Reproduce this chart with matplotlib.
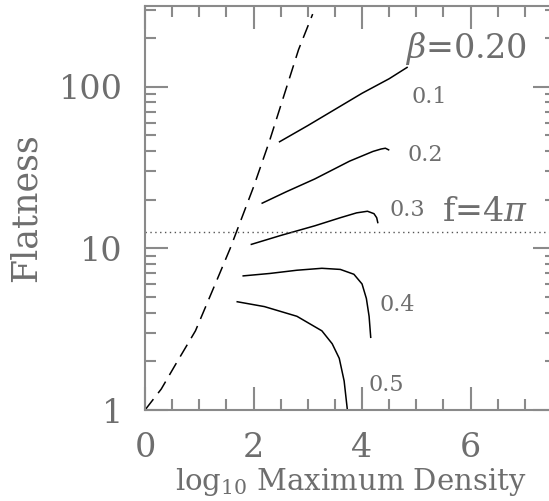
import numpy as np
import matplotlib
matplotlib.use("Agg")
import matplotlib.pyplot as plt
from matplotlib.ticker import FixedLocator, FixedFormatter, MultipleLocator, LogLocator, NullFormatter

# dashed boundary (x = log10 max density, y = log10 flatness)
dash_x = [0.0, 0.3, 0.56, 0.93, 1.32, 1.57, 2.0, 2.29, 2.83, 3.09]
dash_ly = [0.0, 0.13, 0.28, 0.49, 0.80, 1.0, 1.38, 1.66, 2.23, 2.45]

# beta = 0.1 .. 0.5 tracks
b01_x = [2.48, 3.0, 3.5, 4.0, 4.5, 4.83]
b01_ly = [1.66, 1.76, 1.86, 1.96, 2.05, 2.12]
b02_x = [2.16, 2.6, 3.13, 3.77, 4.2, 4.35, 4.43, 4.49]
b02_ly = [1.28, 1.35, 1.43, 1.54, 1.60, 1.615, 1.62, 1.61]
b03_x = [1.96, 2.5, 3.13, 3.6, 3.9, 4.1, 4.22, 4.27, 4.29]
b03_ly = [1.025, 1.08, 1.14, 1.19, 1.22, 1.23, 1.215, 1.19, 1.16]
b04_x = [1.81, 2.3, 2.8, 3.26, 3.6, 3.85, 4.0, 4.08, 4.13, 4.16]
b04_ly = [0.83, 0.845, 0.865, 0.877, 0.87, 0.84, 0.78, 0.69, 0.58, 0.45]
b05_x = [1.70, 2.2, 2.8, 3.26, 3.45, 3.58, 3.67, 3.73]
b05_ly = [0.67, 0.64, 0.58, 0.49, 0.41, 0.32, 0.18, 0.0]

beta_labels = ['0.1', '0.2', '0.3', '0.4', '0.5']
beta_lab_x = [5.23, 5.16, 4.84, 4.64, 4.45]
beta_lab_ly = [1.94, 1.58, 1.24, 0.65, 0.155]

f_line = 4 * np.pi

plt.rcParams['font.family'] = ['DejaVu Serif']
plt.rcParams['mathtext.fontset'] = 'dejavuserif'

gray = '#6e6e6e'
sgray = '#8a8a8a'

fig = plt.figure(figsize=(5.49, 5.01), dpi=100)
# right spine sits just past the image edge, as in the original
ax = fig.add_axes([0.2641, 0.1816, 0.748, 0.8064])

lw = 1.1
ax.plot(dash_x, 10 ** np.array(dash_ly), color='black', lw=lw, dashes=(9, 5))
for xs, ys in [(b01_x, b01_ly), (b02_x, b02_ly), (b03_x, b03_ly), (b04_x, b04_ly), (b05_x, b05_ly)]:
    ax.plot(xs, 10 ** np.array(ys), color='black', lw=lw)
ax.axhline(f_line, color='#555555', lw=1.0, ls=(0, (1, 2.5)))

ax.set_yscale('log')
ax.set_xlim(0, 7.568)
ax.set_ylim(1, 10 ** 2.5)

ax.xaxis.set_major_locator(FixedLocator([0, 2, 4, 6]))
ax.xaxis.set_minor_locator(FixedLocator(np.arange(0, 7.5, 0.5)))
ax.yaxis.set_major_locator(FixedLocator([1, 10, 100]))
ax.yaxis.set_major_formatter(FixedFormatter(['1', '10', '100']))
ax.yaxis.set_minor_locator(LogLocator(base=10, subs=np.arange(2, 10)))
ax.yaxis.set_minor_formatter(NullFormatter())

ax.tick_params(which='both', direction='in', top=True, right=True, colors=sgray,
               labelcolor=gray, labelsize=24, width=1.5)
ax.tick_params(which='major', length=16.5, pad=16)
ax.tick_params(which='minor', length=8)
for s in ax.spines.values():
    s.set_color(sgray)
    s.set_linewidth(1.5)

ax.set_xlabel(r'log$_{10}$ Maximum Density', fontsize=21, color=gray)
ax.xaxis.label.set_va('baseline')
ax.xaxis.set_label_coords(0.5, -0.198)
ax.set_ylabel('Flatness', fontsize=25, color=gray)
ax.yaxis.label.set_va('center')
ax.yaxis.set_label_coords(-0.29, 0.5)

ax.text(4.79, 10 ** 2.24, r'$\beta$=0.20', fontsize=24, color=gray, va='center', ha='left')
ax.text(6.27, 10 ** 1.225, r'f=4$\pi$', fontsize=24, color=gray, va='center', ha='center')
for lab, lx, ly in zip(beta_labels, beta_lab_x, beta_lab_ly):
    ax.text(lx, 10 ** ly, lab, fontsize=16, color=gray, va='center', ha='center')

fig.savefig('out.png', dpi=100)
